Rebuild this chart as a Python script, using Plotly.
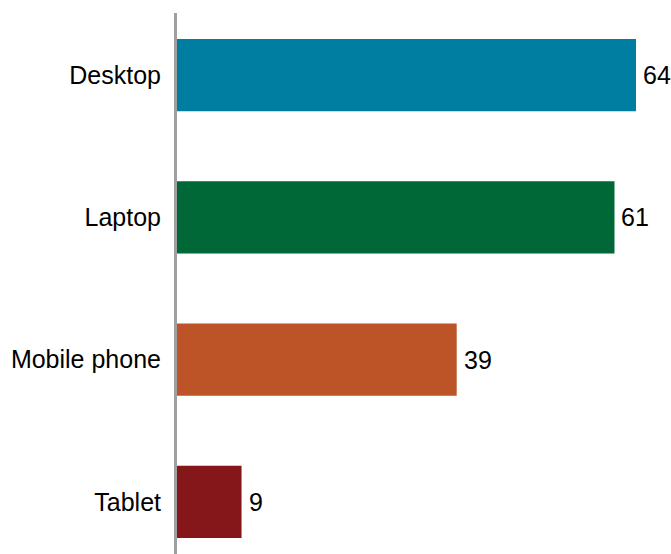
import plotly.graph_objects as go

# data
devices = ['Desktop', 'Laptop', 'Mobile phone', 'Tablet']
values = [64, 61, 39, 9]
bar_colors = ['#007EA1', '#006837', '#BC5427', '#85171A']

fig = go.Figure(go.Bar(
    x=values,
    y=devices,
    orientation='h',
    marker=dict(color=bar_colors, line=dict(width=0)),
    width=0.507,
    hoverinfo='x+y',
))

# value labels just right of each bar
for d, v in zip(devices, values):
    fig.add_annotation(
        x=v, y=d, text=str(v),
        xanchor='left', xshift=5,
        showarrow=False,
        font=dict(size=25, color='#000000'),
    )

fig.update_xaxes(visible=False, range=[0, 68.88])
fig.update_yaxes(
    range=[3.366, -0.437],
    showline=True, linecolor='#A0A0A0', linewidth=3,
    ticks='', ticklabelstandoff=8,
    tickfont=dict(size=25, color='#000000'),
    showgrid=False, zeroline=False,
)
fig.update_layout(
    width=671, height=554,
    margin=dict(l=177, r=0, t=13, b=0, autoexpand=False),
    font=dict(family='Liberation Sans, Arial, sans-serif'),
    plot_bgcolor='white', paper_bgcolor='white',
    showlegend=False,
)

# drop the default body margin so the figure sits at the page corner
fig.write_html(
    "out.html",
    config={'displayModeBar': False},
    post_script="document.body.style.margin='0';",
)
